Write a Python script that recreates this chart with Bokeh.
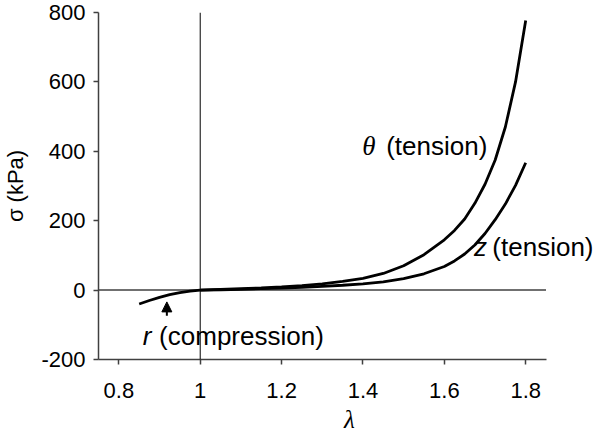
from bokeh.plotting import figure
from bokeh.models import Span, Label, Arrow, NormalHead, FixedTicker, Range1d
from bokeh.embed import file_html
from bokeh.resources import INLINE

# stretch ratio (lambda) and stress (kPa)
lam_tension = [1.0, 1.05, 1.1, 1.15, 1.2, 1.25, 1.3, 1.35, 1.4, 1.45, 1.5, 1.55, 1.6,
               1.625, 1.65, 1.675, 1.7, 1.725, 1.75, 1.775, 1.8]
sigma_theta = [0, 2, 4, 6, 9, 13, 18, 25, 34, 48, 70, 102, 145,
               172, 205, 250, 305, 375, 470, 600, 777]
sigma_z = [0, 1, 2, 4, 6, 8, 11, 14, 18, 24, 33, 47, 68,
           84, 104, 130, 163, 203, 248, 302, 367]
lam_comp = [0.85, 0.875, 0.9, 0.925, 0.95, 0.975, 1.0]
sigma_r = [-40, -30, -21, -13, -7, -3, 0]

x_ticks = [0.8, 1.0, 1.2, 1.4, 1.6, 1.8]
x_tick_labels = ["0.8", "1", "1.2", "1.4", "1.6", "1.8"]
y_ticks = [-200, 0, 200, 400, 600, 800]
y_tick_labels = ["-200", "0", "200", "400", "600", "800"]
x_axis_bounds = (0.75, 1.85)
y_axis_bounds = (-200, 800)

AX = "#404040"
SANS = "Liberation Sans"
SERIF = "Liberation Serif"

W, H = 600, 435
LEFT, RIGHT_AXIS_END, TOP, BOTTOM = 93, 545, 12, 74
# frame spans to the right edge so that labels beyond the axis end are not clipped
x_end = x_axis_bounds[0] + (x_axis_bounds[1] - x_axis_bounds[0]) * (W - LEFT) / (RIGHT_AXIS_END - LEFT)

p = figure(width=W, height=H, x_range=Range1d(x_axis_bounds[0], x_end),
           y_range=Range1d(*y_axis_bounds),
           output_backend="svg", toolbar_location=None,
           min_border_left=LEFT, min_border_right=0, min_border_top=TOP, min_border_bottom=BOTTOM)
p.xgrid.visible = False
p.ygrid.visible = False
p.outline_line_color = None
p.background_fill_color = "white"
p.border_fill_color = "white"

for ax in (p.xaxis[0], p.yaxis[0]):
    ax.axis_line_color = AX
    ax.axis_line_width = 1.5
    ax.major_tick_line_color = AX
    ax.major_tick_line_width = 1.5
    ax.major_tick_in = 0
    ax.major_tick_out = 5
    ax.minor_tick_line_color = None
    ax.major_label_text_font = SANS
    ax.major_label_text_font_size = "22px"
    ax.major_label_text_color = "black"

p.xaxis.bounds = x_axis_bounds
p.xaxis.ticker = FixedTicker(ticks=x_ticks)
p.xaxis.major_label_overrides = {t: s for t, s in zip(x_ticks, x_tick_labels)}
p.xaxis.major_label_standoff = 18
p.xaxis.axis_label = "λ"
p.xaxis.axis_label_text_font = SERIF
p.xaxis.axis_label_text_font_style = "italic"
p.xaxis.axis_label_text_font_size = "25px"
p.xaxis.axis_label_text_color = "black"
p.xaxis.axis_label_standoff = 5

p.yaxis.ticker = FixedTicker(ticks=y_ticks)
p.yaxis.major_label_overrides = {t: s for t, s in zip(y_ticks, y_tick_labels)}
p.yaxis.major_label_standoff = 8
p.yaxis.axis_label = "σ (kPa)"
p.yaxis.axis_label_text_font = SANS
p.yaxis.axis_label_text_font_style = "normal"
p.yaxis.axis_label_text_font_size = "22px"
p.yaxis.axis_label_text_color = "black"
p.yaxis.axis_label_standoff = 10

p.add_layout(Span(location=1.0, dimension="height", line_color="black", line_width=1))
p.line(list(x_axis_bounds), [0, 0], line_color=AX, line_width=1.5)

p.line(lam_tension, sigma_theta, line_color="black", line_width=2.8)
p.line(lam_tension, sigma_z, line_color="black", line_width=2.8)
p.line(lam_comp, sigma_r, line_color="black", line_width=2.8)

p.add_layout(Arrow(end=NormalHead(size=10, fill_color="black", line_color="black", line_width=1),
                   x_start=0.918, y_start=-74, x_end=0.918, y_end=-34,
                   line_color="black", line_width=2))

def lab(x, y, text, font=SANS, style="normal", align="left", size="26px"):
    p.add_layout(Label(x=x, y=y, text=text, text_font=font, text_font_style=style,
                       text_font_size=size, text_align=align, text_baseline="middle",
                       text_color="black"))

lab(1.398, 416, "θ", font=SERIF, style="italic", size="27px")
lab(1.457, 416, "(tension)")
lab(1.673, 124, "z", style="italic")
lab(1.718, 124, "(tension)")
lab(0.8585, -131, "r", style="italic")
lab(0.899, -131, "(compression)")

open("out.html", "w").write(file_html(p, INLINE))
